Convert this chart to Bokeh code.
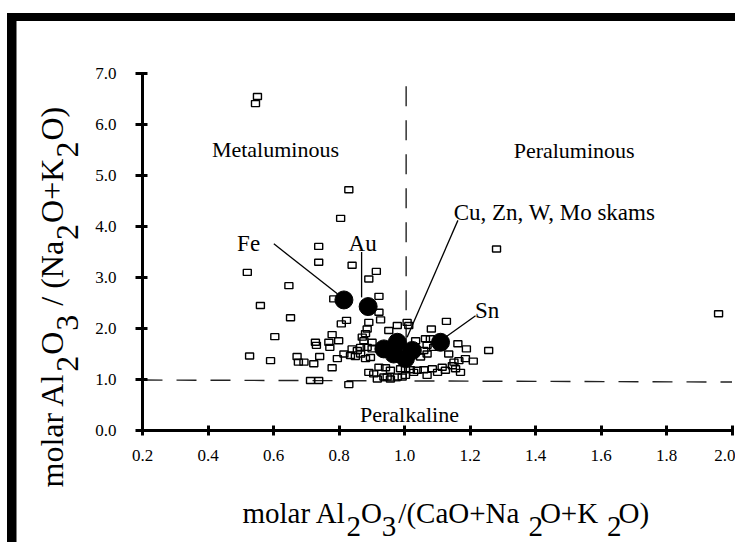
import numpy as np
from bokeh.plotting import figure
from bokeh.models import Range1d, FixedTicker, PrintfTickFormatter
from bokeh.core.properties import value
from bokeh.embed import file_html
from bokeh.resources import INLINE

# ---------------- data ----------------
# open squares: individual granitoid samples
sample_asi = [0.551, 0.545, 0.830, 0.805, 0.738, 0.738, 0.840, 0.914, 0.891, 0.520,
              0.647, 0.560, 0.652, 0.604, 0.527, 0.591, 0.672, 0.676, 0.922, 0.922,
              0.927, 0.807, 0.823, 0.891, 0.886, 0.881, 0.952, 0.978, 1.008, 0.779,
              0.769, 0.772, 0.799, 0.728, 0.731, 0.693, 0.741, 0.723, 0.779, 0.795,
              0.815, 0.840, 0.856, 0.866, 0.835, 0.850, 0.866, 0.886, 0.901, 0.881,
              0.896, 0.876, 0.871, 0.901, 0.891, 0.906, 0.917, 0.937, 0.957, 0.978,
              1.003, 0.922, 0.942, 0.957, 0.988, 0.713, 0.738, 0.830, 0.784, 1.128,
              1.082, 1.013, 1.034, 1.064, 1.079, 1.069, 1.059, 1.163, 1.189, 1.257,
              1.135, 1.186, 1.210, 1.151, 1.166, 1.146, 1.156, 1.115, 1.125, 1.085,
              1.059, 1.039, 1.018, 1.003, 0.993, 1.069, 1.049, 1.089, 1.281, 1.959,
              1.101, 1.171, 1.028, 1.069, 0.947]
sample_ank = [6.55, 6.41, 4.72, 4.16, 3.61, 3.30, 3.24, 3.12, 2.97, 3.10,
              2.84, 2.45, 2.21, 1.84, 1.46, 1.37, 1.45, 1.34, 2.63, 2.32,
              2.17, 2.09, 2.16, 2.12, 1.99, 1.90, 1.96, 2.06, 2.12, 1.88,
              1.73, 1.63, 1.76, 1.73, 1.67, 1.34, 1.45, 1.31, 1.23, 1.41,
              1.50, 1.60, 1.57, 1.63, 1.47, 1.45, 1.50, 1.63, 1.60, 1.41,
              1.43, 1.76, 1.83, 1.73, 1.14, 1.11, 1.01, 1.05, 1.01, 1.05,
              1.08, 1.24, 1.23, 1.18, 1.21, 0.98, 0.98, 0.90, 2.58, 2.14,
              1.99, 2.06, 1.76, 1.80, 1.80, 1.67, 1.57, 1.70, 1.60, 1.57,
              1.50, 1.41, 1.36, 1.34, 1.37, 1.27, 1.21, 1.24, 1.18, 1.21,
              1.19, 1.18, 1.19, 1.21, 1.05, 1.50, 1.44, 1.63, 3.56, 2.29,
              1.14, 1.14, 1.14, 1.08, 1.05]

# filled circles: average compositions of skarn-related plutons
deposit_asi = [0.815, 0.889, 0.937, 0.978, 1.024, 1.003, 0.967, 1.110]
deposit_ank = [2.56, 2.43, 1.60, 1.73, 1.57, 1.41, 1.50, 1.73]

# deposit labels and leader lines
deposit_names = ["Fe", "Au", "Cu, Zn, W, Mo skams", "Sn"]
name_x = [0.524, 0.872, 1.458, 1.252]
name_y = [3.67, 3.67, 4.27, 2.35]
leader_x0 = [0.601, 0.869, 1.163, 1.217]
leader_y0 = [3.66, 3.50, 4.12, 2.25]
leader_x1 = [0.795, 0.869, 1.008, 1.125]
leader_y1 = [2.68, 2.61, 1.83, 1.83]

# field names
field_names = ["Metaluminous", "Peraluminous", "Peralkaline"]
field_x = [0.606, 1.518, 1.015]
field_y = [5.51, 5.49, 0.31]

# field boundaries (dashed)
vert_x = [1.005, 1.005]
vert_y = [6.75, 1.0]
horiz_x = [0.2, 2.0]
horiz_y = [0.99, 0.95]

x_ticks = [0.2, 0.4, 0.6, 0.8, 1.0, 1.2, 1.4, 1.6, 1.8, 2.0]
x_tick_labels = ["0.2", "0.4", "0.6", "0.8", "1.0", "1.2", "1.4", "1.6", "1.8", "2.0"]
y_ticks = [0.0, 1.0, 2.0, 3.0, 4.0, 5.0, 6.0, 7.0]
y_tick_labels = ["0.0", "1.0", "2.0", "3.0", "4.0", "5.0", "6.0", "7.0"]

# ---------------- layout calibration ----------------
W, H = 735, 542
OFF = 0                      # figure origin on the page
PX0, PXS = 142.0, 327.5      # px of x=0.2, px per unit
PY0, PYS = 430.0, 51.0       # px of y=0, px per unit

x_start = 0.2 - (PX0 - OFF) / PXS
x_end = x_start + W / PXS
y_end = (PY0 - OFF) / PYS
y_start = y_end - H / PYS


def X(px):
    return 0.2 + (px - PX0) / PXS


def Y(py):
    return (PY0 - py) / PYS


FONT = value("Liberation Serif")

p = figure(width=W, height=H, x_range=Range1d(x_start, x_end), y_range=Range1d(y_start, y_end),
           output_backend="svg", toolbar_location=None, min_border=0,
           min_border_left=0, min_border_right=0, min_border_top=0, min_border_bottom=0)
p.outline_line_color = None
p.xgrid.visible = False
p.ygrid.visible = False
p.background_fill_color = "white"
p.border_fill_color = "white"

# axes
for ax, ticks, labels, loc, bnds in ((p.xaxis[0], x_ticks, x_tick_labels, 0.0, (0.2, 2.0)),
                                     (p.yaxis[0], y_ticks, y_tick_labels, 0.2, (0.0, 7.0))):
    ax.fixed_location = loc
    ax.bounds = bnds
    ax.ticker = FixedTicker(ticks=ticks)
    ax.formatter = PrintfTickFormatter(format="%.1f")
    ax.major_label_overrides = {t: l for t, l in zip(ticks, labels)}
    ax.axis_line_width = 3
    ax.axis_line_color = "black"
    ax.major_tick_line_width = 3
    ax.major_tick_line_color = "black"
    ax.minor_tick_line_color = None
    ax.major_label_text_font = "Liberation Serif"
    ax.major_label_text_font_size = "17px"
    ax.major_label_text_color = "black"
p.xaxis.major_tick_in = 5
p.xaxis.major_tick_out = 5
p.xaxis.major_label_standoff = 14
p.yaxis.major_tick_in = 5
p.yaxis.major_tick_out = 7
p.yaxis.major_label_standoff = 19

# black scan frame (left and top bars)
p.quad(left=[X(6.5)], right=[X(16)], top=[Y(12.5)], bottom=[Y(560)], fill_color="black", line_color=None)
p.quad(left=[X(6.5)], right=[X(760)], top=[Y(12.5)], bottom=[Y(20.5)], fill_color="black", line_color=None)

# dashed field boundaries
p.line(vert_x, vert_y, line_color="#222222", line_width=1.4, line_dash="20 14")
p.line(horiz_x, horiz_y, line_color="#222222", line_width=1.4, line_dash="20 14")

# samples
p.rect(x=sample_asi, y=sample_ank, width=8, height=6, width_units="screen", height_units="screen",
       fill_color=None, line_color="black", line_width=1.4)

# leader lines
p.segment(x0=leader_x0, y0=leader_y0, x1=leader_x1, y1=leader_y1, line_color="black", line_width=1.3)

# deposit averages
p.scatter(x=deposit_asi, y=deposit_ank, size=18, marker="circle", fill_color="black", line_color="black")

# text
p.text(x=field_x, y=field_y, text=field_names, text_font=FONT, text_font_size="22px",
       text_align="center", text_baseline="alphabetic", text_color="black")
p.text(x=name_x, y=name_y, text=deposit_names, text_font=FONT, text_font_size="23px",
       text_align="center", text_baseline="alphabetic", text_color="black")

# Times-like advance widths (em) of the title pieces
em = {"molar Al": 3.583, "2": 0.5, "O": 0.722, "3": 0.5, "/(CaO+Na": 4.174,
      "/ (Na": 2.027, "O+K": 2.008, "O)": 1.055}

# x axis title with subscripts: (text, is_subscript, gap before in px)
XFS = 29
xl_pieces = [("molar Al", 0, 0), ("2", 1, 0), ("O", 0, 0), ("3", 1, 0), ("/(CaO+Na", 0, 2),
             ("2", 1, 9), ("O+K", 0, -3), ("2", 1, 9), ("O)", 0, -3)]
cur = 242.0
xs, ys, ts = [], [], []
for t, s, gap in xl_pieces:
    cur += gap
    xs.append(X(cur))
    ys.append(Y(526) if s else Y(512))
    ts.append(t)
    cur += em[t] * XFS
p.text(x=xs, y=ys, text=ts, text_font=FONT, text_font_size=f"{XFS}px",
       text_align="left", text_baseline="alphabetic", text_color="black")

# y axis title with subscripts (rotated, reading upwards)
YFS = 32
yl_pieces = [("molar Al", 0, 0), ("2", 1, 0), ("O", 0, 0), ("3", 1, 0), ("/ (Na", 0, 8),
             ("2", 1, 0), ("O+K", 0, 0), ("2", 1, 0), ("O)", 0, 0)]
cur = 487.0
xs, ys, ts = [], [], []
for t, s, gap in yl_pieces:
    cur -= gap
    ys.append(Y(cur))
    xs.append(X(67) if s else X(51))
    ts.append(t)
    cur -= em[t] * YFS + 1
p.text(x=xs, y=ys, text=ts, angle=np.pi / 2, text_font=FONT, text_font_size=f"{YFS}px",
       text_align="left", text_baseline="alphabetic", text_color="black")

open("out.html", "w").write(file_html(p, INLINE))
